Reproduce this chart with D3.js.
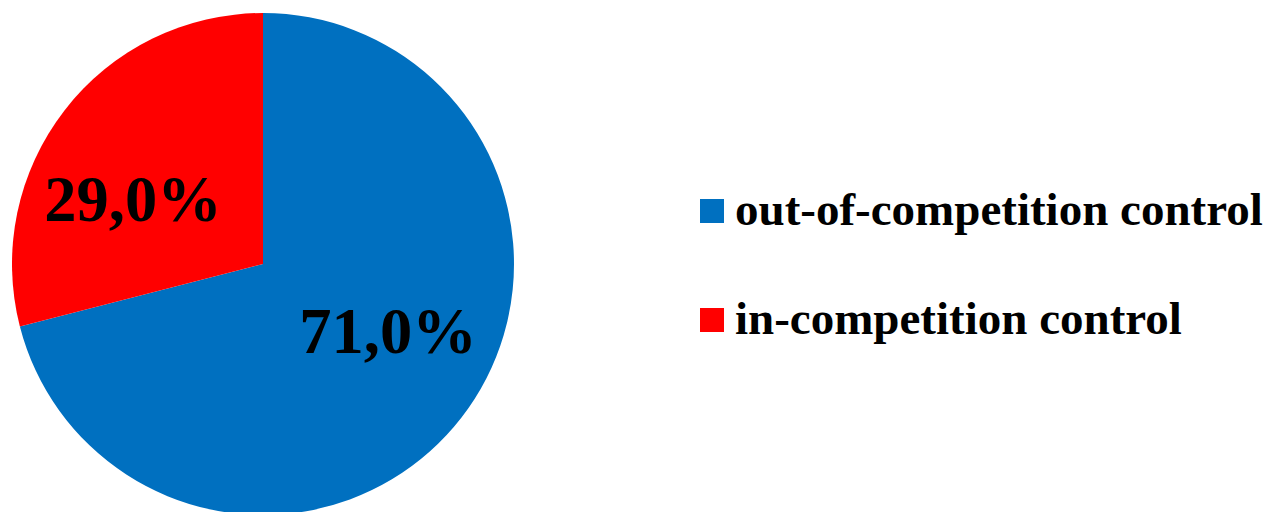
<!DOCTYPE html>
<html><head><meta charset="utf-8">
<script src="https://cdn.jsdelivr.net/npm/d3@7"></script>
<style>body{margin:0;background:#fff}svg{display:block}</style>
</head><body>
<svg id="c" width="1278" height="512"></svg>
<script>
const categories = ["out-of-competition control", "in-competition control"];
const values = [71.0, 29.0];
const labels = ["71,0%", "29,0%"];
const colors = ["#0070C0", "#FF0000"];

const svg = d3.select("#c");
const cx = 263, cy = 264, r = 251;
const pie = d3.pie().sort(null).value(d => d.v);
const arcs = pie(values.map((v, i) => ({v, i})));
const arc = d3.arc().innerRadius(0).outerRadius(r);
const g = svg.append("g").attr("transform", `translate(${cx},${cy})`);
g.selectAll("path").data(arcs).join("path")
  .attr("d", arc).attr("fill", d => colors[d.data.i]);

const labelPos = [[125, 89], [-130, -43]];
g.selectAll("text").data(arcs).join("text")
  .attr("x", d => labelPos[d.data.i][0])
  .attr("y", d => labelPos[d.data.i][1])
  .attr("text-anchor", "middle")
  .style("font-family", "'Liberation Serif', 'Times New Roman', serif")
  .attr("font-weight", "bold").attr("font-size", 64.5)
  .attr("fill", "#000")
  .text(d => labels[d.data.i]);

const leg = svg.append("g").attr("transform", "translate(700,199)");
const rows = leg.selectAll("g").data(categories).join("g")
  .attr("transform", (d, i) => `translate(0,${i * 109})`);
rows.append("rect").attr("width", 24).attr("height", 24).attr("fill", (d, i) => colors[i]);
rows.append("text").attr("x", 35).attr("y", 26)
  .style("font-family", "'Liberation Serif', 'Times New Roman', serif")
  .attr("font-weight", "bold").attr("font-size", 47).attr("fill", "#000")
  .text(d => d);
</script>
</body></html>
